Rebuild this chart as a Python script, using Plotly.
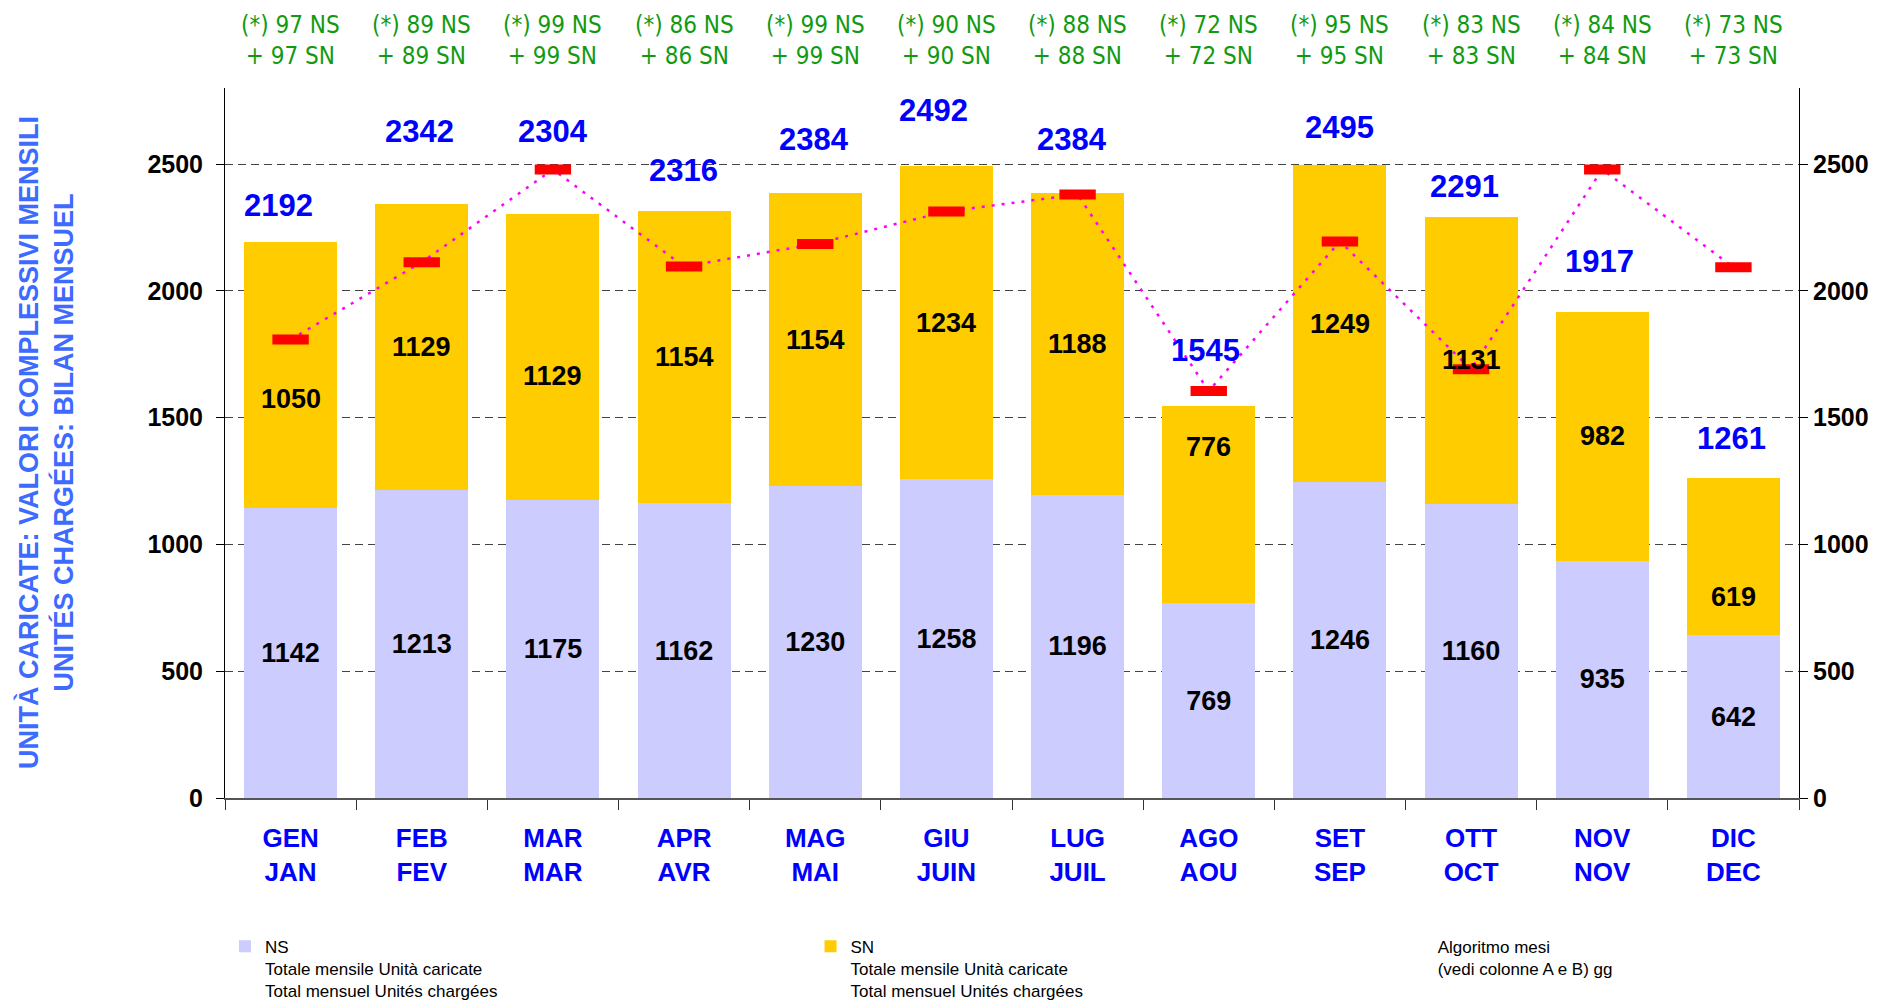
import plotly.graph_objects as go

# ---------------- data ----------------
months = ["GEN<br>JAN", "FEB<br>FEV", "MAR<br>MAR", "APR<br>AVR", "MAG<br>MAI", "GIU<br>JUIN",
          "LUG<br>JUIL", "AGO<br>AOU", "SET<br>SEP", "OTT<br>OCT", "NOV<br>NOV", "DIC<br>DEC"]
ns_values = [1142, 1213, 1175, 1162, 1230, 1258, 1196, 769, 1246, 1160, 935, 642]
sn_values = [1050, 1129, 1129, 1154, 1154, 1234, 1188, 776, 1249, 1131, 982, 619]
totals = [2192, 2342, 2304, 2316, 2384, 2492, 2384, 1545, 2495, 2291, 1917, 1261]
algo_values = [1808, 2113, 2479, 2096, 2185, 2313, 2380, 1605, 2195, 1691, 2479, 2093]
ns_days = [97, 89, 99, 86, 99, 90, 88, 72, 95, 83, 84, 73]
sn_days = [97, 89, 99, 86, 99, 90, 88, 72, 95, 83, 84, 73]
y_ticks = [0, 500, 1000, 1500, 2000, 2500]

# label placement tweaks (pixels), layout only
total_yshift = [37, 73, 82, 40, 54, 56, 54, 56, 38, 31, 50, 40]
total_xshift = [-12, -2, 0, -1, -1, -13, -6, -3, 0, -7, -3, -2]
sn_label_yshift = [-24, 0, -19, 0, 0, 0, 0, 58, 0, 0, 0, -40]

NS_COLOR = "#ccccff"
SN_COLOR = "#ffcc00"
BLUE = "#0000ff"
GREEN = "#119a11"
FONT = "Liberation Sans, Arial, sans-serif"
NARROW = "Liberation Sans Narrow, DejaVu Sans Condensed, Arial Narrow, sans-serif"

fig = go.Figure()

fig.add_trace(go.Bar(
    x=months, y=ns_values, name="NS<br>Totale mensile Unità caricate<br>Total mensuel Unités chargées",
    marker=dict(color=NS_COLOR, line=dict(width=0)), legend="legend",
    text=[str(v) for v in ns_values], textposition="inside", insidetextanchor="middle",
    textfont=dict(family=FONT, size=27, color="black", weight="bold"),
    textangle=0,
))
fig.add_trace(go.Bar(
    x=months, y=sn_values, name="SN<br>Totale mensile Unità caricate<br>Total mensuel Unités chargées",
    marker=dict(color=SN_COLOR, line=dict(width=0)), legend="legend2",
))
fig.add_trace(go.Scatter(
    x=months, y=algo_values, mode="lines+markers", yaxis="y2", showlegend=False,
    line=dict(color="#ff00ff", width=2.5, dash="3px,7px"),
    marker=dict(symbol="line-ew", size=26, color="red", line=dict(width=10, color="red")),
))
# legend entry for the algorithm series (no visible symbol, as in the reference)
fig.add_trace(go.Scatter(
    x=[None], y=[None], mode="markers", name="Algoritmo mesi<br>(vedi colonne A e B) gg",
    marker=dict(color="rgba(0,0,0,0)", size=1), legend="legend3",
))

annotations = []
for i, m in enumerate(months):
    annotations.append(dict(
        x=m, y=ns_values[i] + sn_values[i] / 2, xref="x", yref="y", text=str(sn_values[i]),
        showarrow=False, yshift=sn_label_yshift[i],
        font=dict(family=FONT, size=27, color="black", weight="bold")))
    annotations.append(dict(
        x=m, y=totals[i], xref="x", yref="y", text=str(totals[i]), showarrow=False,
        yshift=total_yshift[i], xshift=total_xshift[i], yanchor="middle",
        font=dict(family=FONT, size=31, color=BLUE, weight="bold")))
    annotations.append(dict(
        x=m, y=1.067, xref="x", yref="paper",
        text="(*) %d NS<br>+ %d SN" % (ns_days[i], sn_days[i]), showarrow=False,
        yanchor="middle", align="center",
        font=dict(family=NARROW, size=24, color=GREEN)))

annotations.append(dict(
    x=-0.1137, y=0.5, xref="paper", yref="paper", textangle=-90, showarrow=False,
    text="UNITÀ CARICATE: VALORI COMPLESSIVI MENSILI<br>UNITÉS CHARGÉES: BILAN MENSUEL",
    align="center", xanchor="center", yanchor="middle",
    font=dict(family=FONT, size=27, color="#3d6bff", weight="bold")))

yaxis_common = dict(
    range=[0, 2800], tickvals=y_ticks, ticks="outside", ticklen=8, tickcolor="black",
    showline=True, linecolor="black", linewidth=1,
    tickfont=dict(family=FONT, size=25, color="black", weight="bold"),
    zeroline=False,
)

legend_common = dict(orientation="v", y=-0.184, xanchor="left", yanchor="top", valign="top",
                     font=dict(family=FONT, size=17, color="black"),
                     itemwidth=30, bgcolor="rgba(0,0,0,0)")

fig.update_layout(
    width=1872, height=996,
    margin=dict(l=217, r=81, t=80, b=206, autoexpand=False),
    paper_bgcolor="white", plot_bgcolor="white",
    barmode="stack", bargap=0.29,
    font=dict(family=FONT),
    showlegend=True,
    legend=dict(x=0.0, **legend_common),
    legend2=dict(x=0.372, **legend_common),
    legend3=dict(x=0.745, **legend_common),
    xaxis=dict(
        range=[-0.5, len(months) - 0.5],
        showline=True, linecolor="#555555", linewidth=2,
        ticks="outside", tickson="boundaries", ticklen=10, tickcolor="#333333",
        tickfont=dict(family=FONT, size=26, color=BLUE, weight="bold"),
        ticklabelstandoff=16,
    ),
    yaxis=dict(**yaxis_common, showgrid=True, gridcolor="#444444", griddash="8px,5px", gridwidth=1,
               ticklabelstandoff=8),
    yaxis2=dict(**yaxis_common, overlaying="y", side="right", showgrid=False),
    annotations=annotations,
)

fig.write_html("out.html")
